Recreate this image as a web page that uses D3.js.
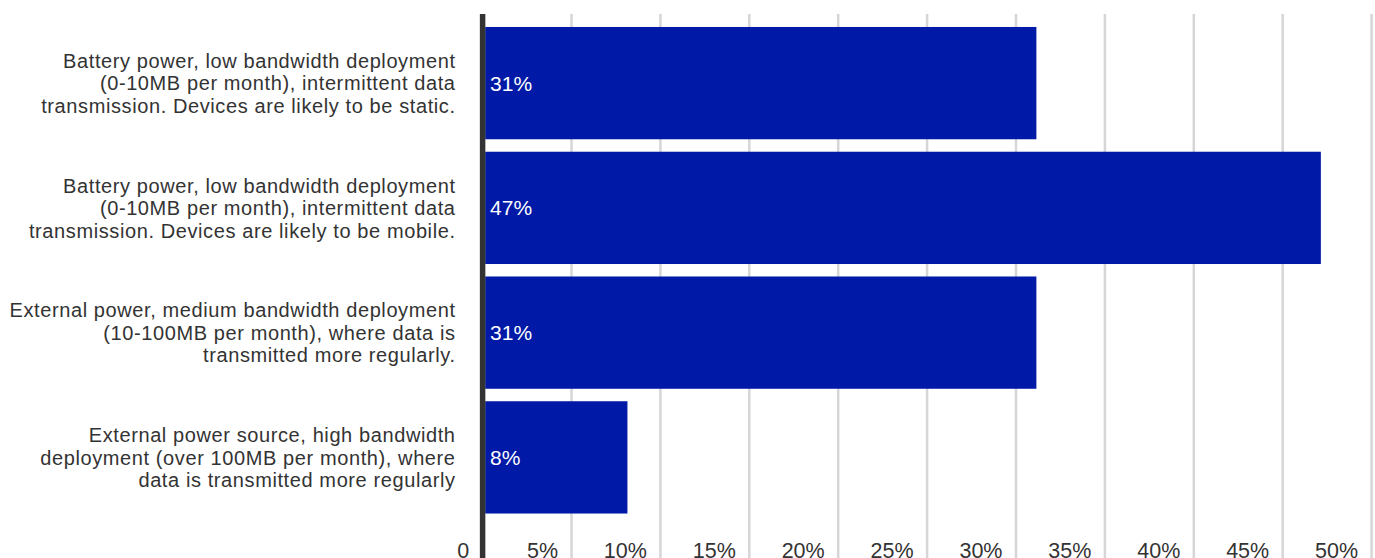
<!DOCTYPE html>
<html>
<head>
<meta charset="utf-8">
<script src="https://cdn.jsdelivr.net/npm/d3@7"></script>
<style>
  html, body { margin: 0; padding: 0; background: #fff; }
  svg { display: block; font-family: "Liberation Sans", Arial, sans-serif; }
</style>
</head>
<body>
<svg id="chart" width="1375" height="558"></svg>
<script>
// Deployment categories, one bar each (label lines split as displayed)
const categories = [
  ["Battery power, low bandwidth deployment", "(0-10MB per month), intermittent data", "transmission. Devices are likely to be static."],
  ["Battery power, low bandwidth deployment", "(0-10MB per month), intermittent data", "transmission. Devices are likely to be mobile."],
  ["External power, medium bandwidth deployment", "(10-100MB per month), where data is", "transmitted more regularly."],
  ["External power source, high bandwidth", "deployment (over 100MB per month), where", "data is transmitted more regularly"]
];
const values = [31, 47, 31, 8];
const tickValues = [0, 5, 10, 15, 20, 25, 30, 35, 40, 45, 50];
const tickLabels = ["0", "5%", "10%", "15%", "20%", "25%", "30%", "35%", "40%", "45%", "50%"];

const svg = d3.select("#chart");
const x0 = 482.6, plotTop = 14, axisHalf = 2.6;

const x = d3.scaleLinear().domain([0, 50]).range([x0, 1371.6]);
const y = d3.scaleBand().domain(d3.range(values.length)).range([plotTop + 0.5, 526]).paddingInner(0.1).paddingOuter(0.1);

// vertical gridlines
svg.append("g").selectAll("line")
  .data(tickValues.filter(d => d > 0))
  .join("line")
  .attr("x1", d => x(d)).attr("x2", d => x(d))
  .attr("y1", plotTop).attr("y2", 558)
  .attr("stroke", "#d6d6d6").attr("stroke-width", 2.5);

// bars start at the right edge of the zero line
svg.append("g").selectAll("rect")
  .data(values)
  .join("rect")
  .attr("x", x0 + axisHalf)
  .attr("y", (d, i) => y(i))
  .attr("width", d => x(d) - x0)
  .attr("height", y.bandwidth())
  .attr("fill", "#0019a6");

// value labels inside bars
svg.append("g").selectAll("text")
  .data(values)
  .join("text")
  .attr("x", x0 + 7.5)
  .attr("y", (d, i) => y(i) + y.bandwidth() / 2)
  .attr("dy", "0.36em")
  .attr("fill", "#fff")
  .attr("font-size", 21)
  .text(d => d + "%");

// category labels
const catSize = 20;
const cat = svg.append("g").selectAll("text")
  .data(categories)
  .join("text")
  .attr("text-anchor", "end")
  .attr("fill", "#333")
  .attr("font-size", catSize)
  .attr("letter-spacing", 0.6)
  .attr("y", (d, i) => y(i) + y.bandwidth() / 2);
cat.selectAll("tspan")
  .data(d => d)
  .join("tspan")
  .attr("x", 455.6)
  .attr("dy", (d, j) => j === 0 ? (0.36 * catSize - 22.5) : 22.5)
  .text(d => d);

// bottom tick labels, right-aligned just before each gridline
const xAxis = d3.axisBottom(x)
  .tickValues(tickValues)
  .tickFormat((d, i) => tickLabels[i])
  .tickSize(0);
const ax = svg.append("g")
  .attr("transform", "translate(0,541)")
  .call(xAxis);
ax.select(".domain").remove();
ax.selectAll("text")
  .attr("text-anchor", "end")
  .attr("dx", -14)
  .attr("dy", 0)
  .attr("y", 16.5)
  .attr("fill", "#333")
  .attr("font-size", 21.5)
  .attr("font-family", "Liberation Sans, Arial, sans-serif");

// zero baseline
svg.append("line")
  .attr("x1", x0).attr("x2", x0)
  .attr("y1", plotTop).attr("y2", 558)
  .attr("stroke", "#333").attr("stroke-width", 5.5);
</script>
</body>
</html>
